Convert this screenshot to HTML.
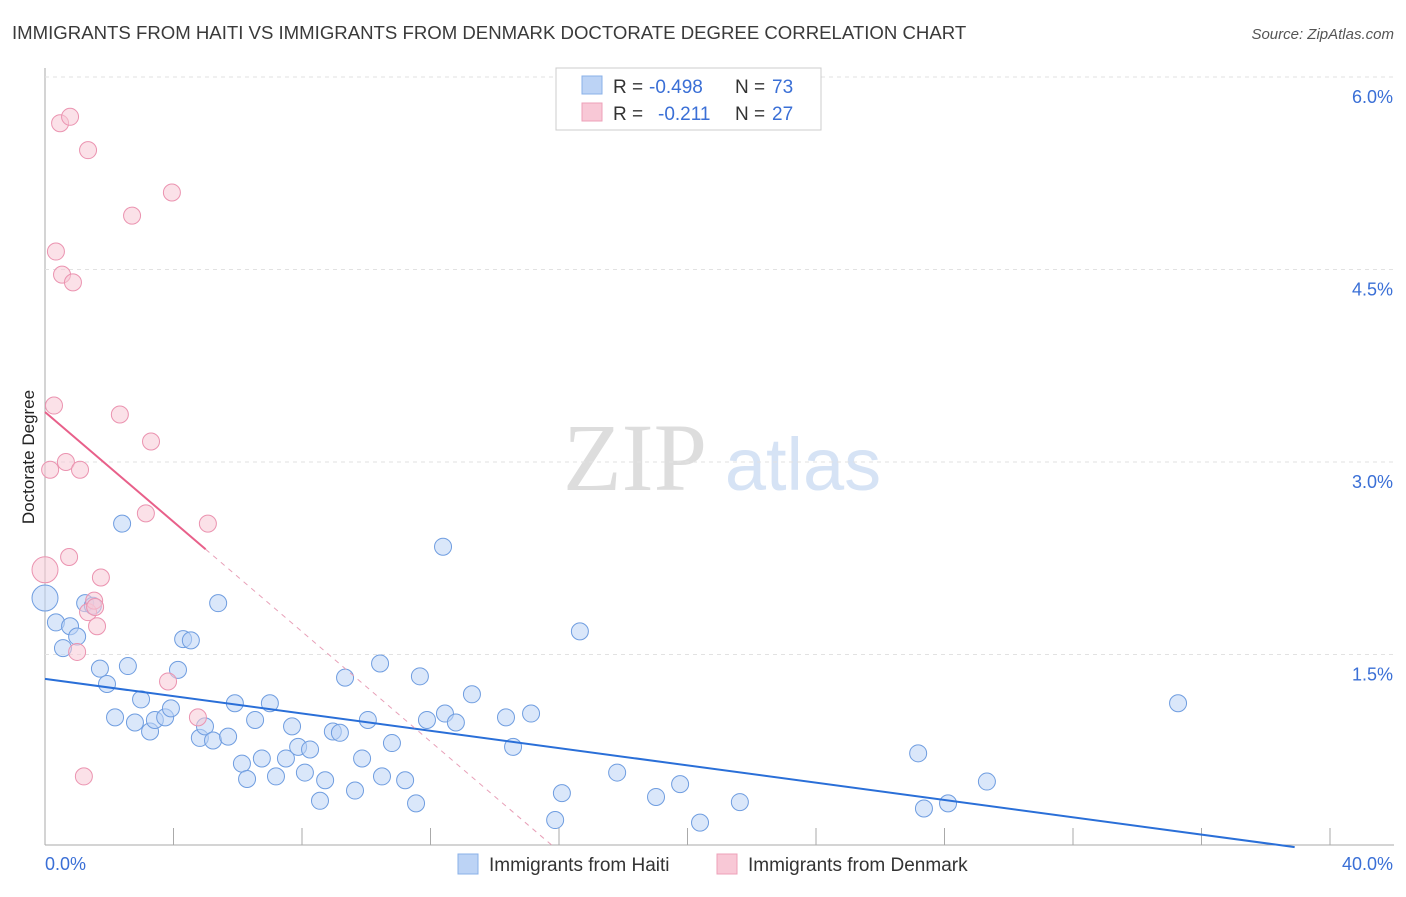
<!DOCTYPE html>
<html><head><meta charset="utf-8"><style>
body{margin:0;background:#fff;font-family:"Liberation Sans",sans-serif}
svg text{font-family:"Liberation Sans",sans-serif}
</style></head><body>
<svg id="c" width="1406" height="892">
<text x="12" y="39" font-size="18.6" fill="#3a3a3a">IMMIGRANTS FROM HAITI VS IMMIGRANTS FROM DENMARK DOCTORATE DEGREE CORRELATION CHART</text>
<text x="1394" y="39" font-size="15" fill="#555" text-anchor="end" font-style="italic">Source: ZipAtlas.com</text>
<text x="34" y="457" font-size="17" fill="#222" text-anchor="middle" transform="rotate(-90 34 457)">Doctorate Degree</text>
<g>
<text x="635" y="490" font-size="96" fill="#ddd" text-anchor="middle" style="font-family:'Liberation Serif',serif">ZIP</text>
<text x="803" y="490" font-size="74" fill="#d6e3f5" text-anchor="middle">atlas</text>
</g>
<g id="grid"></g><g id="marks"></g>
<g>
<rect x="556" y="68" width="265" height="62" fill="#fff" stroke="#ccc"/>
<rect x="582" y="76" width="20" height="18" fill="#bcd3f5" stroke="#8ab0e8"/>
<rect x="582" y="103" width="20" height="18" fill="#f8c8d6" stroke="#eea0b8"/>
<text x="613" y="93" font-size="19" fill="#333">R =</text>
<text x="649" y="93" font-size="19" fill="#3a6fd6">-0.498</text>
<text x="735" y="93" font-size="19" fill="#333">N =</text>
<text x="772" y="93" font-size="19" fill="#3a6fd6">73</text>
<text x="613" y="120" font-size="19" fill="#333">R =</text>
<text x="658" y="120" font-size="19" fill="#3a6fd6">-0.211</text>
<text x="735" y="120" font-size="19" fill="#333">N =</text>
<text x="772" y="120" font-size="19" fill="#3a6fd6">27</text>
</g>
<g>
<rect x="458" y="854" width="20" height="20" fill="#bcd3f5" stroke="#8ab0e8"/>
<text x="489" y="871" font-size="19" fill="#333">Immigrants from Haiti</text>
<rect x="717" y="854" width="20" height="20" fill="#f8c8d6" stroke="#eea0b8"/>
<text x="748" y="871" font-size="19" fill="#333">Immigrants from Denmark</text>
</g>
</svg>
<script>
const yTicks=[1.5,3.0,4.5,6.0];
const xTickLabels=["0.0%","40.0%"];
const haitiX=[0,0.34,0.78,1.0,0.56,1.25,1.49,1.71,1.93,2.40,2.18,2.58,2.80,2.99,3.27,3.42,3.74,3.92,4.14,4.30,4.54,4.82,4.98,5.23,5.39,5.70,5.91,6.13,6.29,6.54,6.75,7.00,7.19,7.50,7.69,7.88,8.09,8.25,8.56,8.72,8.96,9.18,9.34,9.65,9.87,10.05,10.43,10.49,10.80,11.21,11.55,11.67,11.89,12.45,12.39,12.79,13.29,14.35,14.57,15.13,15.88,16.09,16.65,17.81,19.02,19.77,20.39,21.63,27.18,27.36,28.11,29.32,35.27];
const haitiY=[1.94,1.75,1.72,1.64,1.55,1.90,1.88,1.39,1.27,2.52,1.01,1.41,0.97,1.15,0.90,0.99,1.01,1.08,1.38,1.62,1.61,0.85,0.94,0.83,1.90,0.86,1.12,0.65,0.53,0.99,0.69,1.12,0.55,0.69,0.94,0.78,0.58,0.76,0.36,0.52,0.90,0.89,1.32,0.44,0.69,0.99,1.43,0.55,0.81,0.52,0.34,1.33,0.99,1.04,2.34,0.97,1.19,1.01,0.78,1.04,0.21,0.42,1.68,0.58,0.39,0.49,0.19,0.35,0.73,0.30,0.34,0.51,1.12];
const denX=[0,0.16,0.28,0.34,0.47,0.53,0.65,0.75,0.78,0.87,1.0,1.09,1.21,1.34,1.34,1.53,1.56,1.62,1.74,2.33,2.71,3.14,3.30,3.83,3.95,4.76,5.07];
const denY=[2.16,2.94,3.44,4.64,5.64,4.46,3.00,2.26,5.69,4.40,1.52,2.94,0.55,5.43,1.83,1.92,1.87,1.72,2.10,3.37,4.92,2.60,3.16,1.29,5.10,1.01,2.52];
const haitiTrend=[1.31,-0.0337];
const denTrend=[3.39,-0.214];
const X=v=>45+v*32.125, Y=v=>847-v*128.33;
const NS="http://www.w3.org/2000/svg";
const g=document.getElementById('grid'), m=document.getElementById('marks');
function el(t,a,p){const e=document.createElementNS(NS,t);for(const k in a)e.setAttribute(k,a[k]);p.appendChild(e);return e;}
let ax=el('line',{x1:45,y1:68,x2:45,y2:845,stroke:'#aaa'},g);


let bx=el('line',{x1:45,y1:845,x2:1394,y2:845,stroke:'#aaa'},g);


yTicks.forEach(t=>{
 let l=el('line',{x1:45,y1:Y(t),x2:1394,y2:Y(t),stroke:'#e2e2e2','stroke-dasharray':'4,4'},g);
 
 
 let tx=el('text',{x:1393,y:Y(t)+26,'font-size':18,fill:'#3a6fd6','text-anchor':'end'},g);
 tx.textContent=t.toFixed(1)+'%';
 
 
});
for(let i=1;i<=10;i++){let l=el('line',{x1:X(i*4),y1:828,x2:X(i*4),y2:845,stroke:'#aaa'},g);
 
 }
[[45,'start',0],[1393,'end',1]].forEach(([x,a,i])=>{let t=el('text',{x:x,y:870,'font-size':18,fill:'#3a6fd6','text-anchor':a},g);t.textContent=xTickLabels[i];
 
 });
function pts(xs,ys,fill,stroke,name){xs.forEach((x,i)=>{
 let c=el('circle',{cx:X(x),cy:Y(ys[i]),r:i==0?13:8.5,fill:fill,stroke:stroke,'stroke-width':1,'fill-opacity':0.55},m);
 
 });}
pts(haitiX,haitiY,'#bcd3f5','#6f9de0','haiti-point');
pts(denX,denY,'#f8c8d6','#eb93b0','denmark-point');
let x1=38.9;
let tl=el('line',{x1:X(0),y1:Y(haitiTrend[0]),x2:X(x1),y2:Y(haitiTrend[0]+haitiTrend[1]*x1),stroke:'#2a6fd8','stroke-width':2},m);


let xe=-denTrend[0]/denTrend[1];
let dl=el('line',{x1:X(5),y1:Y(denTrend[0]+denTrend[1]*5),x2:X(xe),y2:Y(0),stroke:'#e8a0b8','stroke-width':1,'stroke-dasharray':'5,5'},m);


let pl=el('line',{x1:X(0),y1:Y(denTrend[0]),x2:X(5),y2:Y(denTrend[0]+denTrend[1]*5),stroke:'#e8608a','stroke-width':2},m);


</script>
</body></html>
